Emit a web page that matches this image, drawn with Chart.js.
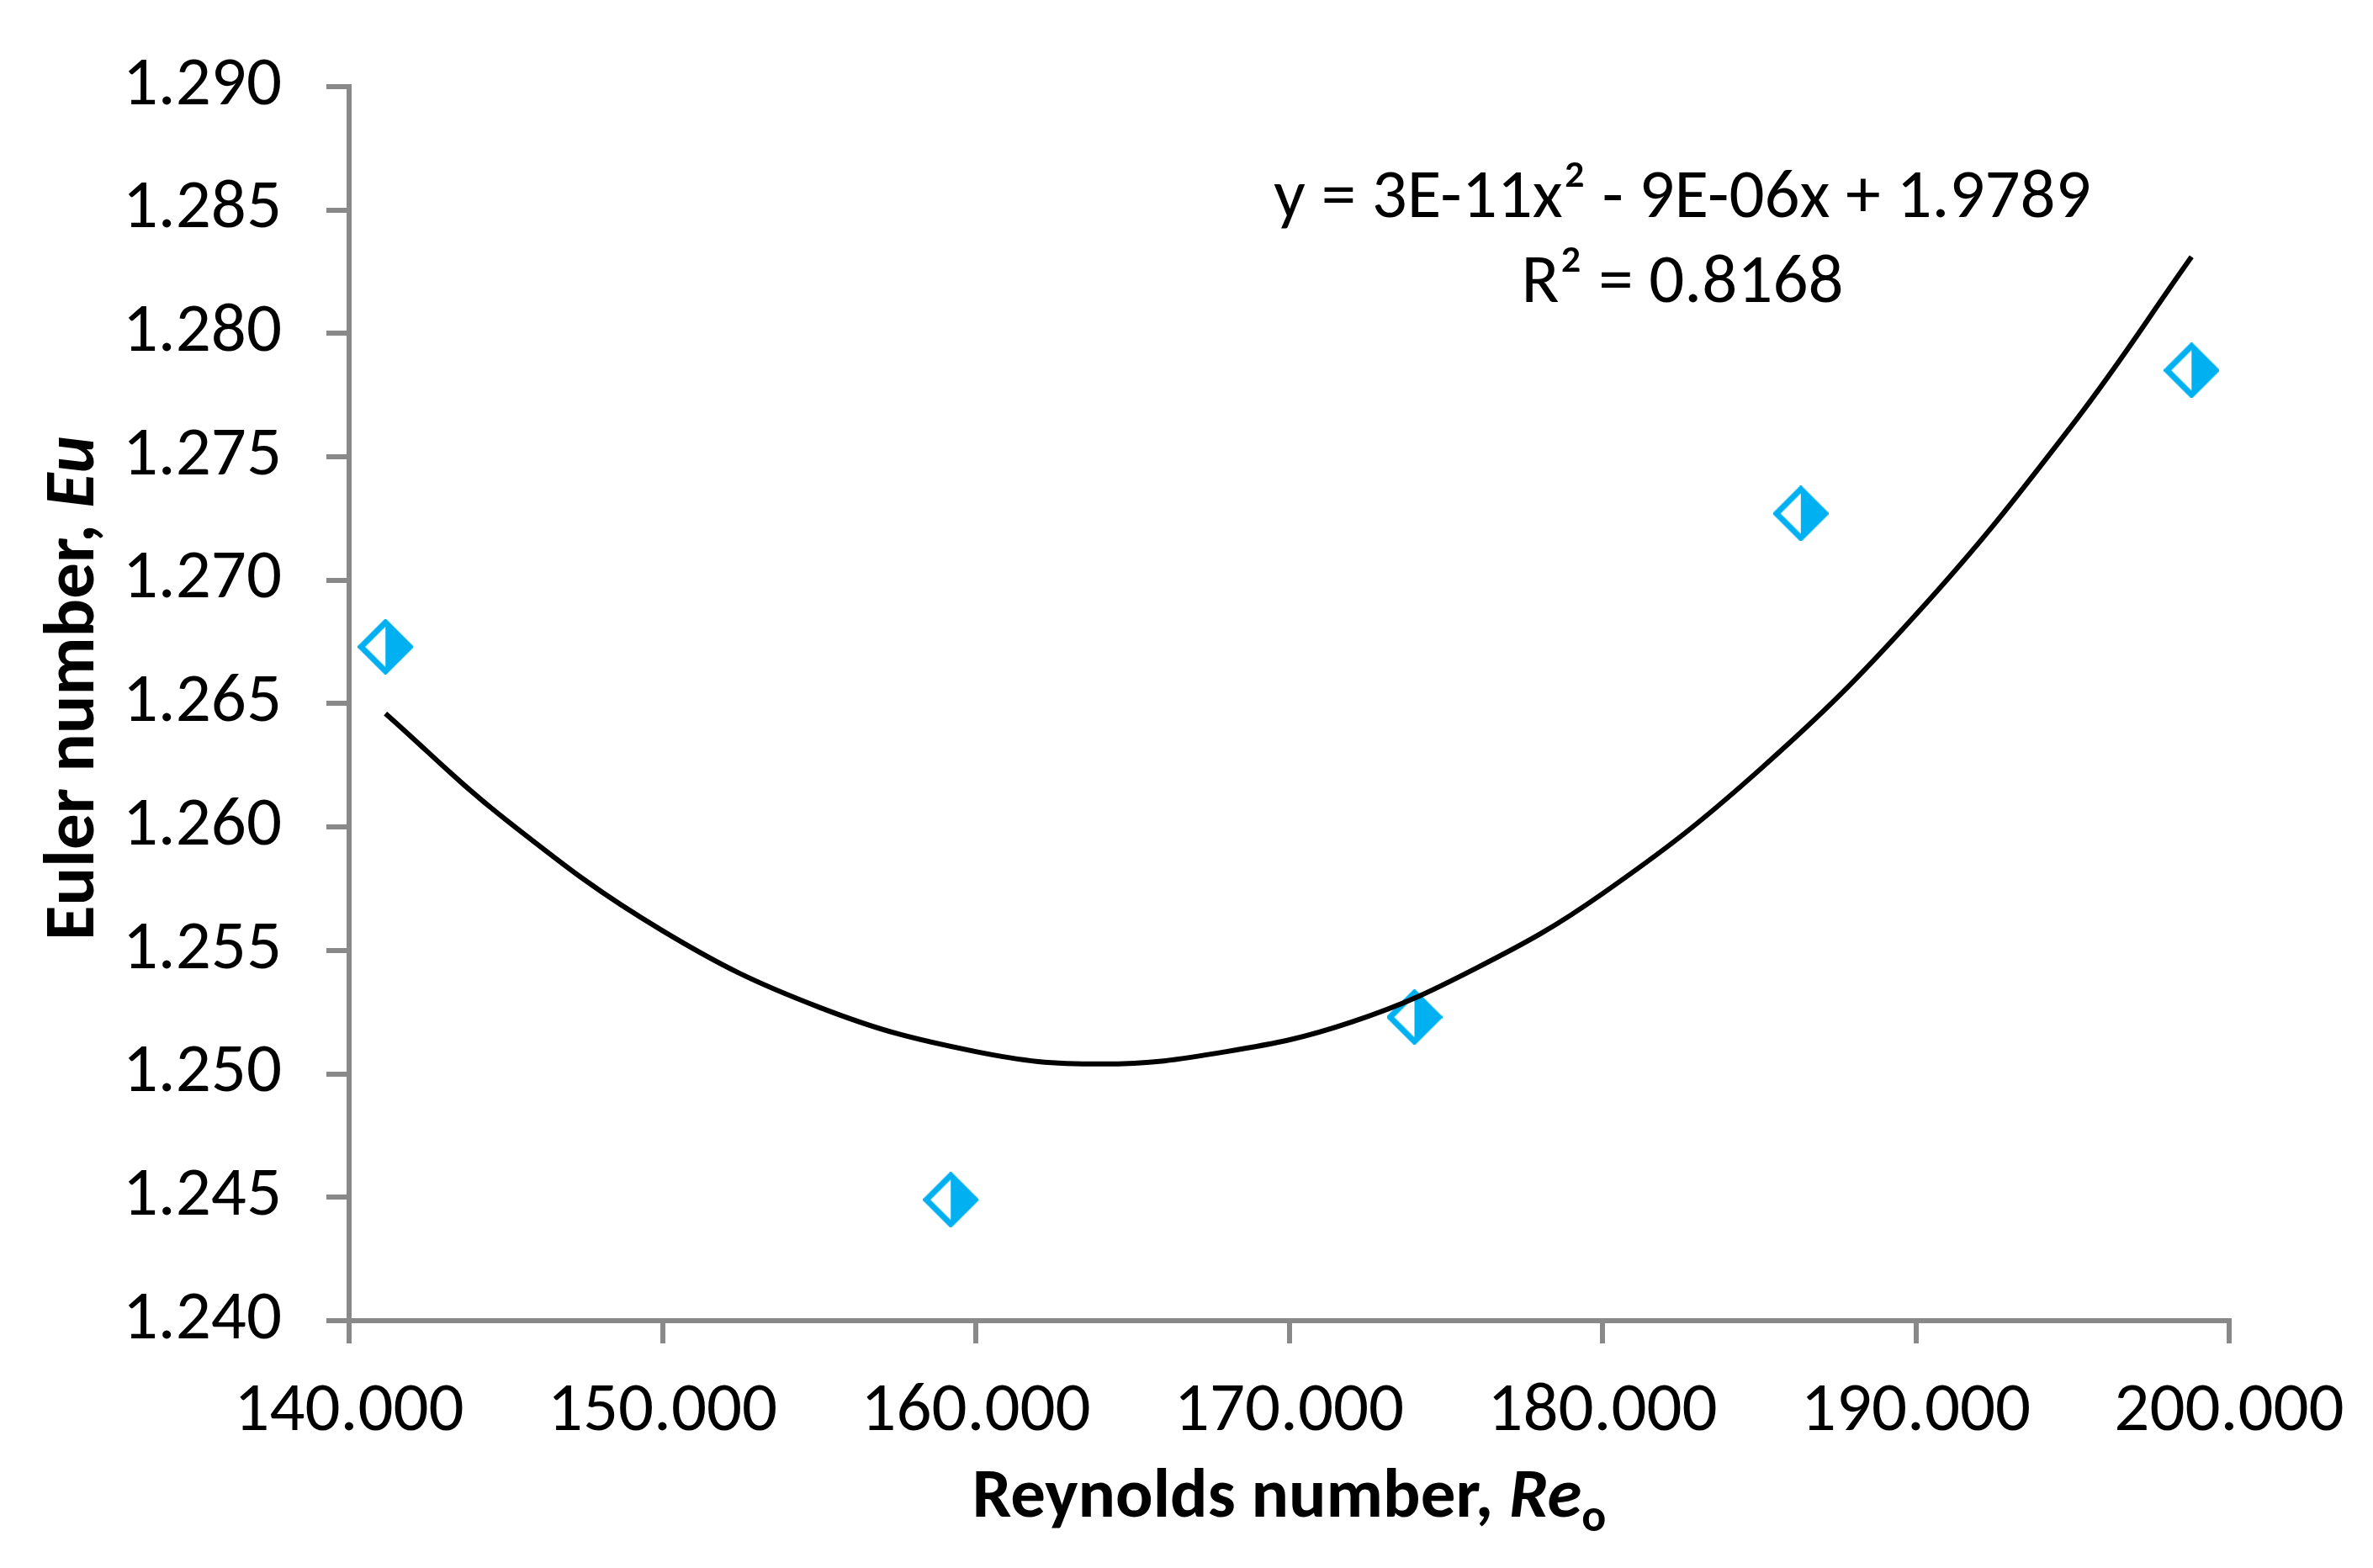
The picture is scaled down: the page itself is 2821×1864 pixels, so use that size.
<!DOCTYPE html>
<html>
<head>
<meta charset="utf-8">
<script src="https://cdn.jsdelivr.net/npm/chart.js@4.4.0/dist/chart.umd.min.js"></script>
<style>
  html, body { margin: 0; padding: 0; background: #fff; }
  #wrap { width: 2821px; height: 1864px; }
</style>
</head>
<body>
<div id="wrap"><canvas id="euChart" width="2821" height="1864"></canvas></div>
<script>
// Measured points (Re_o, Eu)
const reynolds = [141160, 159200, 174000, 186330, 198800];
const euler = [1.2673, 1.2449, 1.2523, 1.2727, 1.2785];

// Polynomial trendline
const trendRe = [141160, 145000, 150000, 155000, 160000, 164000, 168000, 172000, 176000, 180000, 185000, 190000, 195000, 198800];
const trendEu = [1.2646, 1.2603, 1.2558, 1.2527, 1.2509, 1.2504, 1.2509, 1.2521, 1.2543, 1.2573, 1.2623, 1.2686, 1.2763, 1.2831];

const xTickLabels = ['140.000', '150.000', '160.000', '170.000', '180.000', '190.000', '200.000'];
const yTickLabels = ['1.240', '1.245', '1.250', '1.255', '1.260', '1.265', '1.270', '1.275', '1.280', '1.285', '1.290'];

const trendEquation = 'y = 3E-11x\u00B2 - 9E-06x + 1.9789';
const trendR2 = 'R\u00B2 = 0.8168';

const FONT = 'Carlito, Lato, sans-serif';
const AXIS_GREY = '#898989';
const MARKER_BLUE = '#00B0F0';

// half filled diamond marker (left side hollow, right side solid)
function diamondMarker(size) {
    const c = document.createElement('canvas');
    c.width = size;
    c.height = size;
    const g = c.getContext('2d');
    const m = size / 2;
    const r = m - 4;
    const outline = () => {
        g.beginPath();
        g.moveTo(m, m - r);
        g.lineTo(m + r, m);
        g.lineTo(m, m + r);
        g.lineTo(m - r, m);
        g.closePath();
    };
    outline();
    g.fillStyle = '#fff';
    g.fill();
    g.beginPath();
    g.moveTo(m, m - r);
    g.lineTo(m + r, m);
    g.lineTo(m, m + r);
    g.closePath();
    g.fillStyle = MARKER_BLUE;
    g.fill();
    outline();
    g.lineWidth = 7;
    g.strokeStyle = MARKER_BLUE;
    g.stroke();
    return c;
}

// draws a run of text pieces with their own fonts, centred on (cx, cy)
function drawRuns(ctx, runs, cx, cy, rotate) {
    ctx.save();
    ctx.translate(cx, cy);
    if (rotate) ctx.rotate(-Math.PI / 2);
    let total = 0;
    runs.forEach(r => { ctx.font = r.font; total += ctx.measureText(r.text).width; });
    let x = -total / 2;
    ctx.textBaseline = 'middle';
    ctx.textAlign = 'left';
    ctx.fillStyle = '#000';
    runs.forEach(r => {
        ctx.font = r.font;
        ctx.fillText(r.text, x, r.dy || 0);
        x += ctx.measureText(r.text).width;
    });
    ctx.restore();
}

const titlesPlugin = {
    id: 'titles',
    afterDraw(chart) {
        const ctx = chart.ctx;
        const area = chart.chartArea;
        drawRuns(ctx, [
            { text: 'Reynolds number, ', font: 'bold 83px ' + FONT },
            { text: 'Re', font: 'italic bold 83px ' + FONT },
            { text: 'o', font: 'bold 54px ' + FONT, dy: 24 }
        ], (area.left + area.right) / 2, 1782, false);
        drawRuns(ctx, [
            { text: 'Euler number, ', font: 'bold 85px ' + FONT },
            { text: 'Eu', font: 'italic bold 85px ' + FONT }
        ], 90, 818, true);

        // trendline label
        ctx.save();
        ctx.font = '83px ' + FONT;
        ctx.fillStyle = '#000';
        ctx.textAlign = 'center';
        ctx.textBaseline = 'middle';
        ctx.fillText(trendEquation, 2000, 237);
        ctx.fillText(trendR2, 2000, 338);
        ctx.restore();
    }
};

const ctx = document.getElementById('euChart').getContext('2d');
const euChart = new Chart(ctx, {
    type: 'scatter',
    data: {
        datasets: [{
            label: 'Eu',
            data: reynolds.map((r, i) => ({ x: r, y: euler[i] })),
            pointStyle: diamondMarker(66),
            pointRadius: 33,
            showLine: false,
            order: 2
        }, {
            label: 'Poly. (Eu)',
            data: trendRe.map((r, i) => ({ x: r, y: trendEu[i] })),
            showLine: true,
            borderColor: '#000',
            borderWidth: 6,
            pointRadius: 0,
            tension: 0.4,
            fill: false,
            order: 1
        }]
    },
    options: {
        responsive: false,
        animation: false,
        devicePixelRatio: 1,
        layout: {
            padding: { top: 88, right: 171, bottom: 0, left: 0 }
        },
        plugins: {
            legend: { display: false },
            tooltip: { enabled: false }
        },
        scales: {
            x: {
                type: 'linear',
                min: 140000,
                max: 200000,
                afterFit: s => { s.height = 294; },
                afterBuildTicks: s => {
                    s.ticks = xTickLabels.map((t, i) => ({ value: 140000 + i * 10000 }));
                },
                border: { display: true, color: AXIS_GREY, width: 6 },
                grid: {
                    drawOnChartArea: false,
                    drawTicks: true,
                    tickLength: 27,
                    color: AXIS_GREY,
                    lineWidth: 6
                },
                ticks: {
                    color: '#000',
                    font: { family: FONT, size: 83 },
                    padding: 32,
                    maxRotation: 0,
                    autoSkip: false,
                    callback: (v, i) => xTickLabels[i]
                }
            },
            y: {
                type: 'linear',
                min: 1.240,
                max: 1.290,
                afterFit: s => { s.width = 415; },
                afterBuildTicks: s => {
                    s.ticks = yTickLabels.map(t => ({ value: parseFloat(t) }));
                },
                border: { display: true, color: AXIS_GREY, width: 6 },
                grid: {
                    drawOnChartArea: false,
                    drawTicks: true,
                    tickLength: 27,
                    color: AXIS_GREY,
                    lineWidth: 6
                },
                ticks: {
                    color: '#000',
                    font: { family: FONT, size: 83 },
                    padding: 53,
                    autoSkip: false,
                    callback: (v, i) => yTickLabels[i]
                }
            }
        }
    },
    plugins: [titlesPlugin]
});
</script>
</body>
</html>
